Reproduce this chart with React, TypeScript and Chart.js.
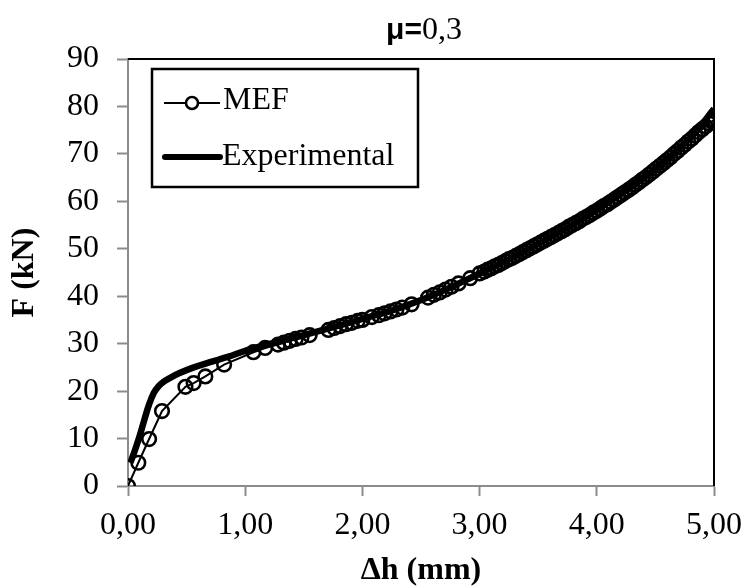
import React, { useEffect, useRef } from "react";
import { Chart, registerables } from "chart.js";

Chart.register(...registerables);

const chartTitleBold = "μ=";
const chartTitleRest = "0,3";
const xTitle = "Δh (mm)";
const yTitle = "F (kN)";
const mefLabel = "MEF";
const expLabel = "Experimental";

const mefX = [0, 0.088, 0.18, 0.29, 0.49, 0.56, 0.66, 0.82, 1.07, 1.17, 1.28, 1.33, 1.38, 1.43, 1.48, 1.55, 1.71, 1.76, 1.81, 1.86, 1.91, 1.96, 2.0, 2.08, 2.14, 2.19, 2.24, 2.29, 2.34, 2.42, 2.56, 2.61, 2.66, 2.71, 2.76, 2.82, 2.92, 3.0, 3.04, 3.07, 3.1, 3.13, 3.16, 3.19, 3.22, 3.25, 3.28, 3.31, 3.34, 3.37, 3.4, 3.43, 3.46, 3.49, 3.52, 3.55, 3.58, 3.61, 3.64, 3.67, 3.7, 3.73, 3.76, 3.79, 3.82, 3.85, 3.88, 3.91, 3.94, 3.97, 4.0, 4.03, 4.06, 4.09, 4.12, 4.15, 4.18, 4.21, 4.24, 4.27, 4.3, 4.33, 4.36, 4.39, 4.42, 4.45, 4.48, 4.51, 4.54, 4.57, 4.6, 4.63, 4.66, 4.69, 4.72, 4.75, 4.78, 4.81, 4.84, 4.87, 4.9, 4.93, 4.96, 4.98, 5.0];
const mefY = [0, 4.9, 9.9, 15.8, 20.9, 21.7, 23.1, 25.6, 28.2, 29.1, 29.8, 30.2, 30.6, 31.0, 31.3, 31.8, 32.9, 33.3, 33.7, 34.1, 34.4, 34.8, 35.0, 35.6, 36.0, 36.4, 36.8, 37.2, 37.6, 38.3, 39.7, 40.3, 40.8, 41.4, 42.0, 42.7, 43.8, 44.8, 45.2, 45.6, 45.9, 46.3, 46.6, 47.0, 47.4, 47.8, 48.1, 48.5, 48.9, 49.3, 49.7, 50.1, 50.5, 50.9, 51.3, 51.7, 52.1, 52.5, 52.9, 53.3, 53.7, 54.1, 54.6, 55.0, 55.4, 55.8, 56.3, 56.7, 57.1, 57.6, 58.0, 58.5, 59.0, 59.4, 59.9, 60.4, 60.9, 61.4, 61.9, 62.4, 62.9, 63.5, 64.0, 64.6, 65.1, 65.7, 66.3, 66.9, 67.5, 68.1, 68.7, 69.3, 70.0, 70.6, 71.3, 71.9, 72.6, 73.2, 73.9, 74.6, 75.2, 75.8, 76.4, 76.8, 77.1];

const expX = [0.02, 0.06, 0.1, 0.14, 0.18, 0.22, 0.26, 0.3, 0.36, 0.44, 0.55, 0.7, 0.85, 1.0, 1.2, 1.5, 1.8, 2.0, 2.3, 2.6, 3.0, 3.3, 3.6, 3.9, 4.2, 4.5, 4.8, 5.0];
const expY = [4.9, 7.6, 10.6, 14.0, 17.2, 19.6, 21.0, 21.9, 22.8, 23.8, 24.9, 26.1, 27.2, 28.5, 29.9, 31.8, 33.8, 35.2, 37.4, 40.2, 44.8, 48.4, 52.4, 56.6, 61.4, 66.8, 73.4, 79.5];

const xMin = 0, xMax = 5, xStep = 1;
const yMin = 0, yMax = 90, yStep = 10;

const SERIF = '"Liberation Serif", "Times New Roman", serif';
const SANS = '"Liberation Sans", Arial, sans-serif';

const decorPlugin = {
  id: "decor",
  afterDraw(chart: any) {
    const { ctx, chartArea } = chart;
    const { left, right, top, bottom } = chartArea;
    ctx.save();
    ctx.strokeStyle = "#000";
    ctx.lineWidth = 2;
    ctx.beginPath();
    ctx.moveTo(left, top);
    ctx.lineTo(right, top);
    ctx.lineTo(right, bottom);
    ctx.stroke();

    // title
    ctx.fillStyle = "#000";
    ctx.textBaseline = "alphabetic";
    ctx.font = `bold 30px ${SANS}`;
    const w1 = ctx.measureText(chartTitleBold).width;
    ctx.font = `32px ${SERIF}`;
    const w2 = ctx.measureText(chartTitleRest).width;
    const cx = 424;
    const sx = cx - (w1 + w2) / 2;
    ctx.textAlign = "left";
    ctx.font = `bold 30px ${SANS}`;
    ctx.fillText(chartTitleBold, sx, 39);
    ctx.font = `32px ${SERIF}`;
    ctx.fillText(chartTitleRest, sx + w1, 39);

    // legend box
    const bx = 152, by = 69, bw = 266, bh = 118;
    ctx.fillStyle = "#fff";
    ctx.fillRect(bx, by, bw, bh);
    ctx.strokeStyle = "#000";
    ctx.lineWidth = 2.5;
    ctx.strokeRect(bx, by, bw, bh);

    ctx.lineWidth = 2.2;
    ctx.beginPath();
    ctx.moveTo(164, 103);
    ctx.lineTo(220, 103);
    ctx.stroke();
    ctx.beginPath();
    ctx.arc(192, 103, 6, 0, Math.PI * 2);
    ctx.fillStyle = "#fff";
    ctx.fill();
    ctx.lineWidth = 2.5;
    ctx.stroke();
    ctx.fillStyle = "#000";
    ctx.font = `32px ${SERIF}`;
    ctx.textAlign = "left";
    ctx.fillText(mefLabel, 223, 109);

    ctx.lineWidth = 6;
    ctx.lineCap = "round";
    ctx.beginPath();
    ctx.moveTo(165, 157);
    ctx.lineTo(220, 157);
    ctx.stroke();
    ctx.fillText(expLabel, 222, 165);
    ctx.restore();
  },
};

export default function App() {
  const ref = useRef<HTMLCanvasElement | null>(null);

  useEffect(() => {
    if (!ref.current) return;
    const mefData = mefX.map((x, i) => ({ x, y: mefY[i] }));
    const expData = expX.map((x, i) => ({ x, y: expY[i] }));
    const chart = new Chart(ref.current, {
      type: "scatter",
      data: {
        datasets: [
          {
            label: mefLabel,
            data: mefData,
            showLine: true,
            borderColor: "#000",
            borderWidth: 2,
            tension: 0,
            pointRadius: 6.8,
            pointBorderWidth: 2.6,
            pointBorderColor: "#000",
            pointBackgroundColor: "rgba(0,0,0,0)",
            order: 1,
          },
          {
            label: expLabel,
            data: expData,
            showLine: true,
            borderColor: "#000",
            borderWidth: 6.5,
            tension: 0.4,
            pointRadius: 0,
            order: 2,
          },
        ],
      },
      options: {
        responsive: false,
        animation: false,
        devicePixelRatio: 1,
        layout: { padding: { top: 59, right: 29, left: 0, bottom: 0 } },
        plugins: {
          legend: { display: false },
          title: { display: false },
          tooltip: { enabled: false },
        },
        scales: {
          x: {
            type: "linear",
            min: xMin,
            max: xMax,
            offset: false,
            ticks: {
              stepSize: xStep,
              autoSkip: false,
              maxRotation: 0,
              color: "#000",
              padding: 10,
              font: { family: SERIF, size: 32 },
              callback: (v: any) => Number(v).toFixed(2).replace(".", ","),
            },
            grid: {
              drawOnChartArea: false,
              drawTicks: true,
              tickLength: 10,
              tickWidth: 2,
              tickColor: "#8c8c8c",
              color: "#8c8c8c",
            },
            border: { color: "#8c8c8c", width: 2 },
            title: {
              display: true,
              text: xTitle,
              color: "#000",
              font: { family: SERIF, size: 32, weight: "bold" },
              padding: { top: 0, bottom: -3 },
            },
            afterFit: (s: any) => {
              s.height = 101;
              s.paddingRight = 0;
              s.paddingLeft = 0;
            },
          },
          y: {
            type: "linear",
            min: yMin,
            max: yMax,
            ticks: {
              stepSize: yStep,
              color: "#000",
              padding: 18,
              font: { family: SERIF, size: 32 },
              callback: (v: any) => String(v),
            },
            grid: {
              drawOnChartArea: false,
              drawTicks: true,
              tickLength: 11,
              tickWidth: 2,
              tickColor: "#8c8c8c",
              color: "#8c8c8c",
            },
            border: { color: "#8c8c8c", width: 2 },
            title: {
              display: true,
              text: yTitle,
              color: "#000",
              font: { family: SERIF, size: 32, weight: "bold" },
              padding: { top: 6, bottom: 0 },
            },
            afterFit: (s: any) => {
              s.width = 128;
              s.paddingTop = 0;
              s.paddingBottom = 0;
            },
          },
        },
      },
      plugins: [decorPlugin],
    });
    return () => chart.destroy();
  }, []);

  return (
    <div style={{ position: "fixed", left: 0, top: 0, width: 743, height: 587, background: "#fff" }}>
      <canvas ref={ref} width={743} height={587} style={{ width: 743, height: 587, display: "block" }} />
    </div>
  );
}
